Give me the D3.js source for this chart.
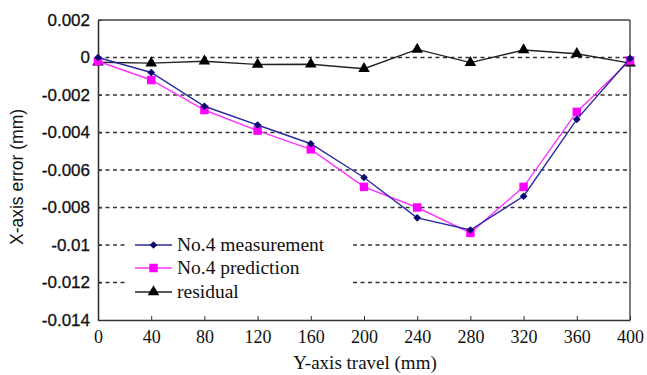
<!DOCTYPE html>
<html><head><meta charset="utf-8">
<script src="https://cdn.jsdelivr.net/npm/d3@7"></script>
<style>body{margin:0;background:#fff}svg{display:block}</style>
</head><body>
<script>
const travel = [0,40,80,120,160,200,240,280,320,360,400];
const measurement = [0.0000,-0.0008,-0.0026,-0.0036,-0.0046,-0.0064,-0.00855,-0.0092,-0.0074,-0.0033,-0.00005];
const prediction  = [-0.0002,-0.0012,-0.0028,-0.0039,-0.0049,-0.0069,-0.0080,-0.00935,-0.0069,-0.0029,-0.00016];
const residual    = [-0.00025,-0.0003,-0.0002,-0.00037,-0.00036,-0.0006,0.00043,-0.00027,0.0004,0.0002,-0.0003];
const xTicks = [0,40,80,120,160,200,240,280,320,360,400];
const yTicks = [0.002,0,-0.002,-0.004,-0.006,-0.008,-0.01,-0.012,-0.014];
const yTickLabels = ["0.002","0","-0.002","-0.004","-0.006","-0.008","-0.01","-0.012","-0.014"];
const seriesNames = ["No.4 measurement","No.4 prediction","residual"];

const W=647,H=375;
const L=98,R=630,T=20,B=320;
const svg=d3.select("body").append("svg").attr("width",W).attr("height",H);
const x=d3.scaleLinear().domain([0,400]).range([L,R]);
const y=d3.scaleLinear().domain([-0.014,0.002]).range([B,T]);

// gridlines
svg.append("g").selectAll("line").data(yTicks.filter(v=>v<0.0015&&v>-0.0135)).join("line")
  .attr("x1",L).attr("x2",R).attr("y1",d=>y(d)).attr("y2",d=>y(d))
  .attr("stroke","#333").attr("stroke-width",1.6).attr("stroke-dasharray","4,3.5");

// frame top/right
svg.append("line").attr("x1",L).attr("x2",R).attr("y1",T).attr("y2",T).attr("stroke","#444").attr("stroke-width",1.4);
svg.append("line").attr("x1",R).attr("x2",R).attr("y1",T).attr("y2",B).attr("stroke","#444").attr("stroke-width",1.4);

// axes
const xAxis=d3.axisBottom(x).tickValues(xTicks).tickSizeInner(-4).tickSizeOuter(0).tickPadding(10).tickFormat(d3.format("d"));
const gx=svg.append("g").attr("transform",`translate(0,${B})`).call(xAxis);
gx.select(".domain").attr("stroke","#333").attr("stroke-width",1.6);
gx.selectAll(".tick line").attr("stroke","#333");
gx.selectAll("text").attr("font-family","Liberation Serif, Times New Roman, serif").attr("font-size",18).attr("fill","#111");

const yAxis=d3.axisLeft(y).tickValues(yTicks).tickSizeInner(-4).tickSizeOuter(0).tickPadding(8).tickFormat((d,i)=>yTickLabels[i]);
const gy=svg.append("g").attr("transform",`translate(${L},0)`).call(yAxis);
gy.select(".domain").attr("stroke","#333").attr("stroke-width",1.6);
gy.selectAll(".tick line").attr("stroke","#333");
gy.selectAll("text").attr("font-family","Liberation Sans, Arial, sans-serif").attr("font-size",17).attr("fill","#111")
  .attr("stroke","#111").attr("stroke-width",0.3);

// titles
svg.append("text").attr("x",365).attr("y",369).attr("text-anchor","middle")
  .attr("font-family","Liberation Serif, Times New Roman, serif").attr("font-size",19).attr("fill","#111").text("Y-axis travel (mm)");
svg.append("text").attr("transform","translate(23,177) rotate(-90)").attr("text-anchor","middle")
  .attr("font-family","Liberation Sans, Arial, sans-serif").attr("font-size",17.5).attr("fill","#111").text("X-axis error (mm)");

const sym={
  diamond:d3.symbol().type(d3.symbolSquare).size(30),
  square:d3.symbol().type(d3.symbolSquare).size(72),
  triangle:d3.symbol().type(d3.symbolTriangle).size(58)
};
const rot={diamond:45,square:0,triangle:0};
const series=[
  {name:seriesNames[0],vals:measurement,line:"#2b2b9e",fill:"#0a0a6e",shape:"diamond"},
  {name:seriesNames[1],vals:prediction,line:"#ff33ff",fill:"#ff00ff",shape:"square"},
  {name:seriesNames[2],vals:residual,line:"#222",fill:"#000",shape:"triangle"}
];
const lineGen=d3.line().x(d=>x(d[0])).y(d=>y(d[1]));

// legend background (hides grid)
const legX=135, legY=[245,268,292];
svg.append("rect").attr("x",128).attr("y",231).attr("width",222).attr("height",73).attr("fill","#fff");

[series[2],series[1],series[0]].forEach(s=>{
  const pts=travel.map((t,i)=>[t,s.vals[i]]);
  svg.append("path").attr("d",lineGen(pts)).attr("fill","none").attr("stroke",s.line).attr("stroke-width",1.4);
  svg.append("g").selectAll("path").data(pts).join("path")
    .attr("d",sym[s.shape]).attr("transform",d=>`translate(${x(d[0])},${y(d[1])}) rotate(${rot[s.shape]})`).attr("fill",s.fill);
});

series.forEach((s,i)=>{
  const yy=legY[i];
  svg.append("line").attr("x1",legX).attr("x2",legX+37).attr("y1",yy).attr("y2",yy).attr("stroke",s.line).attr("stroke-width",1.4);
  svg.append("path").attr("d",sym[s.shape]).attr("transform",`translate(${legX+18.5},${yy}) rotate(${rot[s.shape]})`).attr("fill",s.fill);
  svg.append("text").attr("x",legX+42).attr("y",yy+6).attr("font-family","Liberation Serif, Times New Roman, serif")
    .attr("font-size",19.5).attr("fill","#111").text(s.name);
});
</script>
</body></html>
